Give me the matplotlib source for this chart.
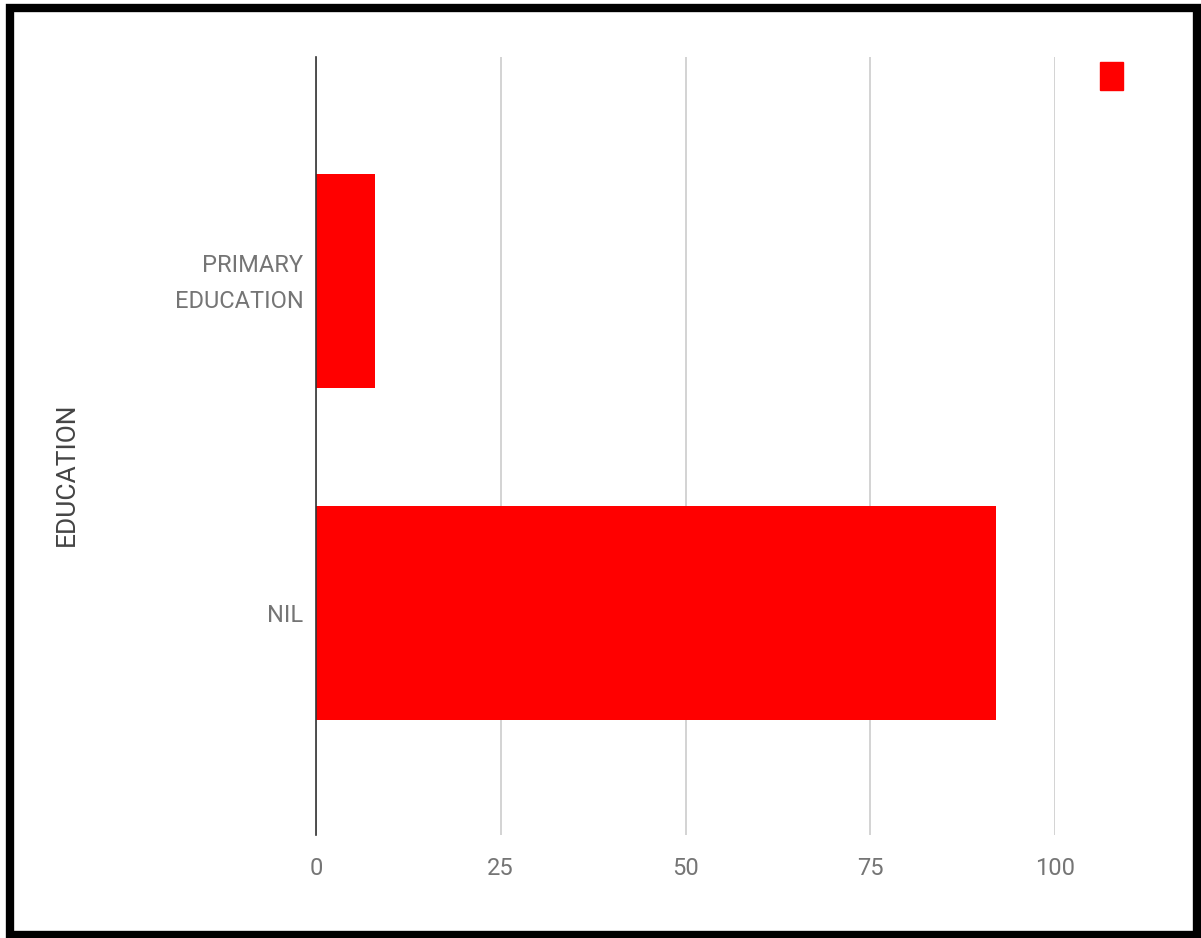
import matplotlib
matplotlib.use("Agg")
import matplotlib.pyplot as plt
import matplotlib.transforms as mtransforms
from matplotlib.patches import Rectangle, Patch

categories = ["NIL", "PRIMARY\nEDUCATION"]
values = [92, 8]
xticks = [0, 25, 50, 75, 100]
axis_title = "EDUCATION"
bar_color = "#ff0000"

plt.rcParams['font.family'] = ['Roboto', 'DejaVu Sans']

W, H = 1201, 938
fig = plt.figure(figsize=(W / 100, H / 100), dpi=100)
fig.patch.set_facecolor("white")

left, right, top, bottom = 316, 1055, 57, 835
ax = fig.add_axes([left / W, (H - bottom) / H, (right - left) / W, (bottom - top) / H])

ypos = list(range(len(categories)))
ax.barh(ypos, values, height=0.645, color=bar_color, zorder=3)
ax.set_xlim(0, 100)
ax.set_ylim(-0.669, 1.675)
ax.set_yticks(ypos)
ax.set_yticklabels(categories, fontsize=17, color="#757575", linespacing=1.75)
ax.set_xticks(xticks)
ax.set_xticklabels([str(v) for v in xticks], fontsize=17, color="#757575")
ax.tick_params(axis="both", length=0)
ax.tick_params(axis="y", pad=9)
ax.tick_params(axis="x", pad=16)
ax.grid(axis="x", color="#cccccc", linewidth=1.2, zorder=0)
for s in ["top", "right", "bottom"]:
    ax.spines[s].set_visible(False)
ax.spines["left"].set_color("#333333")
ax.spines["left"].set_linewidth(1.2)
ax.spines["left"].set_zorder(4)

# nudge multi-line label up slightly to centre it visually on the bar
shift = mtransforms.ScaledTranslation(0, 7 / 100, fig.dpi_scale_trans)
for lab in ax.get_yticklabels():
    if "\n" in lab.get_text():
        lab.set_transform(lab.get_transform() + shift)

fig.text(67 / W, 1 - 474 / H, axis_title, rotation=90, ha="center", va="center",
         fontsize=19, color="#444444")

leg = fig.legend(handles=[Patch(facecolor=bar_color, edgecolor=bar_color)], labels=[""],
                 loc="upper left", bbox_to_anchor=(1100 / W, 1 - 62 / H),
                 frameon=False, borderpad=0, borderaxespad=0, handletextpad=0,
                 fontsize=10, handlelength=1.65, handleheight=2.7)

fig.add_artist(Rectangle((10 / W, 3 / H), (1197 - 10) / W, (930 - 3) / H,
                         transform=fig.transFigure, fill=False, edgecolor="black",
                         linewidth=6))

fig.savefig("out.png", dpi=100)
